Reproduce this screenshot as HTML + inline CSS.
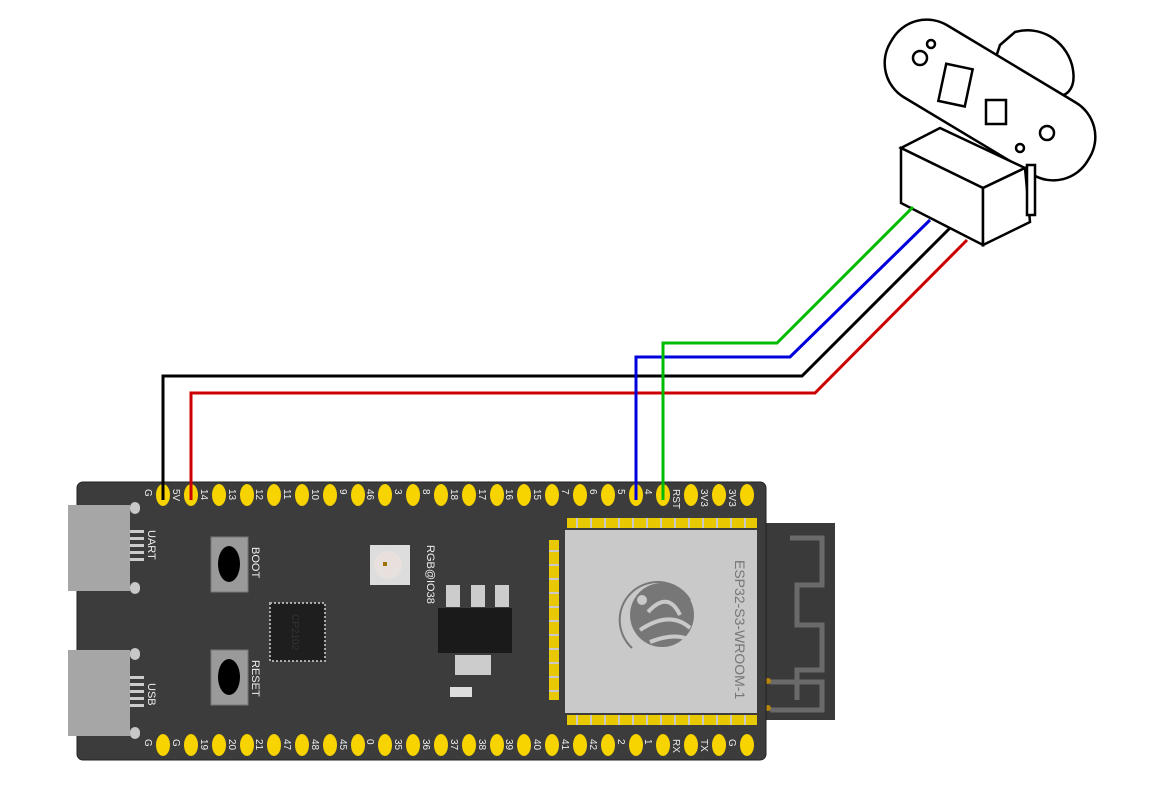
<!DOCTYPE html>
<html><head><style>
html,body{margin:0;padding:0;background:#fff;}
svg{display:block;}
text{font-family:"Liberation Sans",sans-serif;}
</style></head><body>
<svg width="1165" height="810" viewBox="0 0 1165 810" xmlns="http://www.w3.org/2000/svg">
<!-- sensor -->
<g fill="#fff" stroke="#000" stroke-width="2.5">
  <path d="M1000,45 L1015,32 C1040,25 1065,40 1072,65 C1078,90 1065,100 1050,95 L990,75 Z"/>
  <rect x="875" y="58" width="230" height="84" rx="40" transform="rotate(31 990 100)"/>
  <rect x="942" y="66" width="27" height="38" transform="rotate(12 955 85)"/>
  <rect x="986" y="100" width="20" height="24"/>
  <circle cx="920" cy="58" r="7"/><circle cx="1047" cy="133" r="7"/>
  <circle cx="931" cy="44" r="4"/><circle cx="1020" cy="148" r="4"/>
  <polygon points="901,148 940,128 1025,168 983,188"/>
  <polygon points="901,148 983,188 983,245 901,203"/>
  <polygon points="983,188 1025,168 1030,222 983,245"/>
  <rect x="1027" y="165" width="8" height="50"/>
</g>
<!-- board -->
<rect x="766" y="523" width="69" height="197" fill="#3a3a3a"/>
<path d="M790,538 H822 V585 H797 V625 H822 V670 H797 V700" fill="none" stroke="#6a6a6a" stroke-width="5"/>
<path d="M770,682 H822 V710 H770" fill="none" stroke="#6a6a6a" stroke-width="5"/>
<circle cx="768" cy="681" r="3" fill="#b8860b"/><circle cx="768" cy="708" r="3" fill="#b8860b"/>
<rect x="77" y="482" width="689" height="278" rx="6" fill="#3c3c3c" stroke="#222" stroke-width="1"/>
<!-- USB connectors -->
<g fill="#a6a6a6">
<rect x="68" y="505" width="62" height="86"/><rect x="68" y="650" width="62" height="86"/>
<rect x="130" y="502" width="10" height="12" rx="5" fill="#c8c8c8"/><rect x="130" y="582" width="10" height="12" rx="5" fill="#c8c8c8"/>
<rect x="130" y="648" width="10" height="12" rx="5" fill="#c8c8c8"/><rect x="130" y="727" width="10" height="12" rx="5" fill="#c8c8c8"/>
</g>
<g fill="#ccc">
<rect x="130" y="530" width="14" height="3"/><rect x="130" y="537" width="14" height="3"/><rect x="130" y="544" width="14" height="3"/><rect x="130" y="551" width="14" height="3"/><rect x="130" y="558" width="14" height="3"/>
<rect x="130" y="676" width="14" height="3"/><rect x="130" y="683" width="14" height="3"/><rect x="130" y="690" width="14" height="3"/><rect x="130" y="697" width="14" height="3"/><rect x="130" y="704" width="14" height="3"/>
</g>
<g fill="#eee" font-size="11">
<text transform="translate(148,530) rotate(90)">UART</text>
<text transform="translate(148,683) rotate(90)">USB</text>
<text transform="translate(252,547) rotate(90)">BOOT</text>
<text transform="translate(252,660) rotate(90)">RESET</text>
<text transform="translate(427,545) rotate(90)">RGB@IO38</text>
</g>
<!-- buttons -->
<rect x="211" y="537" width="37" height="55" fill="#9a9a9a" stroke="#777"/>
<ellipse cx="229" cy="564" rx="11" ry="18" fill="#000"/>
<rect x="211" y="650" width="37" height="55" fill="#9a9a9a" stroke="#777"/>
<ellipse cx="229" cy="677" rx="11" ry="18" fill="#000"/>
<!-- CP2102 -->
<rect x="270" y="603" width="55" height="58" fill="#1e1e1e" stroke="#aaa" stroke-width="2" stroke-dasharray="2 2"/>
<text transform="translate(292,614) rotate(90)" fill="#333" font-size="10">CP2102</text>
<!-- RGB LED -->
<rect x="370" y="545" width="40" height="40" fill="#ddd"/>
<circle cx="388" cy="565" r="14" fill="#e8e0dc"/><rect x="383" y="562" width="4" height="4" fill="#a07000"/>
<!-- regulator -->
<rect x="446" y="585" width="14" height="22" fill="#ccc"/><rect x="471" y="585" width="14" height="22" fill="#ccc"/><rect x="495" y="585" width="14" height="22" fill="#ccc"/>
<rect x="438" y="608" width="74" height="45" fill="#1a1a1a"/>
<rect x="455" y="655" width="36" height="20" fill="#ccc"/>
<rect x="450" y="687" width="22" height="10" fill="#ddd"/>
<!-- module -->
<rect x="565" y="530" width="192" height="183" fill="#c9c9c9"/>
<g fill="#e8c800">
<rect x="567" y="518" width="190" height="10"/><rect x="567" y="715" width="190" height="10"/><rect x="549" y="540" width="10" height="160"/>
</g>
<g stroke="#c9c9c9" stroke-width="2">
<path d="M577,518V528M591,518V528M605,518V528M619,518V528M633,518V528M647,518V528M661,518V528M675,518V528M689,518V528M703,518V528M717,518V528M731,518V528M745,518V528"/>
<path d="M577,715V725M591,715V725M605,715V725M619,715V725M633,715V725M647,715V725M661,715V725M675,715V725M689,715V725M703,715V725M717,715V725M731,715V725M745,715V725"/>
<path d="M549,551H559M549,565H559M549,579H559M549,593H559M549,607H559M549,621H559M549,635H559M549,649H559M549,663H559M549,677H559M549,691H559"/>
</g>
<g fill="#777">
<path d="M632,648 A38,38 0 1 1 690,600" fill="none" stroke="#777" stroke-width="2"/>
<circle cx="662" cy="615" r="32"/>
</g>
<circle cx="642" cy="600" r="5" fill="#c9c9c9"/>
<path d="M648,612 Q668,590 680,615 M640,630 Q670,610 690,628 M650,642 Q675,632 690,640" fill="none" stroke="#c9c9c9" stroke-width="4"/>
<text transform="translate(735,560) rotate(90)" fill="#777" font-size="14">ESP32-S3-WROOM-1</text>
<g fill="#f7d300">
<ellipse cx="163" cy="495" rx="7" ry="11"/><ellipse cx="191" cy="495" rx="7" ry="11"/><ellipse cx="219" cy="495" rx="7" ry="11"/><ellipse cx="247" cy="495" rx="7" ry="11"/><ellipse cx="274" cy="495" rx="7" ry="11"/><ellipse cx="302" cy="495" rx="7" ry="11"/><ellipse cx="330" cy="495" rx="7" ry="11"/><ellipse cx="358" cy="495" rx="7" ry="11"/><ellipse cx="385" cy="495" rx="7" ry="11"/><ellipse cx="413" cy="495" rx="7" ry="11"/><ellipse cx="441" cy="495" rx="7" ry="11"/><ellipse cx="469" cy="495" rx="7" ry="11"/><ellipse cx="497" cy="495" rx="7" ry="11"/><ellipse cx="524" cy="495" rx="7" ry="11"/><ellipse cx="552" cy="495" rx="7" ry="11"/><ellipse cx="580" cy="495" rx="7" ry="11"/><ellipse cx="608" cy="495" rx="7" ry="11"/><ellipse cx="636" cy="495" rx="7" ry="11"/><ellipse cx="663" cy="495" rx="7" ry="11"/><ellipse cx="691" cy="495" rx="7" ry="11"/><ellipse cx="719" cy="495" rx="7" ry="11"/><ellipse cx="747" cy="495" rx="7" ry="11"/>
<ellipse cx="163" cy="745" rx="7" ry="11"/><ellipse cx="191" cy="745" rx="7" ry="11"/><ellipse cx="219" cy="745" rx="7" ry="11"/><ellipse cx="247" cy="745" rx="7" ry="11"/><ellipse cx="274" cy="745" rx="7" ry="11"/><ellipse cx="302" cy="745" rx="7" ry="11"/><ellipse cx="330" cy="745" rx="7" ry="11"/><ellipse cx="358" cy="745" rx="7" ry="11"/><ellipse cx="385" cy="745" rx="7" ry="11"/><ellipse cx="413" cy="745" rx="7" ry="11"/><ellipse cx="441" cy="745" rx="7" ry="11"/><ellipse cx="469" cy="745" rx="7" ry="11"/><ellipse cx="497" cy="745" rx="7" ry="11"/><ellipse cx="524" cy="745" rx="7" ry="11"/><ellipse cx="552" cy="745" rx="7" ry="11"/><ellipse cx="580" cy="745" rx="7" ry="11"/><ellipse cx="608" cy="745" rx="7" ry="11"/><ellipse cx="636" cy="745" rx="7" ry="11"/><ellipse cx="663" cy="745" rx="7" ry="11"/><ellipse cx="691" cy="745" rx="7" ry="11"/><ellipse cx="719" cy="745" rx="7" ry="11"/><ellipse cx="747" cy="745" rx="7" ry="11"/>
</g>
<g fill="#eee" font-size="10">
<text transform="translate(145,489) rotate(90)">G</text><text transform="translate(173,489) rotate(90)">5V</text><text transform="translate(201,489) rotate(90)">14</text><text transform="translate(229,489) rotate(90)">13</text><text transform="translate(256,489) rotate(90)">12</text><text transform="translate(284,489) rotate(90)">11</text><text transform="translate(312,489) rotate(90)">10</text><text transform="translate(340,489) rotate(90)">9</text><text transform="translate(367,489) rotate(90)">46</text><text transform="translate(395,489) rotate(90)">3</text><text transform="translate(423,489) rotate(90)">8</text><text transform="translate(451,489) rotate(90)">18</text><text transform="translate(479,489) rotate(90)">17</text><text transform="translate(506,489) rotate(90)">16</text><text transform="translate(534,489) rotate(90)">15</text><text transform="translate(562,489) rotate(90)">7</text><text transform="translate(590,489) rotate(90)">6</text><text transform="translate(618,489) rotate(90)">5</text><text transform="translate(645,489) rotate(90)">4</text><text transform="translate(673,489) rotate(90)">RST</text><text transform="translate(701,489) rotate(90)">3V3</text><text transform="translate(729,489) rotate(90)">3V3</text>
<text transform="translate(145,739) rotate(90)">G</text><text transform="translate(173,739) rotate(90)">G</text><text transform="translate(201,739) rotate(90)">19</text><text transform="translate(229,739) rotate(90)">20</text><text transform="translate(256,739) rotate(90)">21</text><text transform="translate(284,739) rotate(90)">47</text><text transform="translate(312,739) rotate(90)">48</text><text transform="translate(340,739) rotate(90)">45</text><text transform="translate(367,739) rotate(90)">0</text><text transform="translate(395,739) rotate(90)">35</text><text transform="translate(423,739) rotate(90)">36</text><text transform="translate(451,739) rotate(90)">37</text><text transform="translate(479,739) rotate(90)">38</text><text transform="translate(506,739) rotate(90)">39</text><text transform="translate(534,739) rotate(90)">40</text><text transform="translate(562,739) rotate(90)">41</text><text transform="translate(590,739) rotate(90)">42</text><text transform="translate(618,739) rotate(90)">2</text><text transform="translate(645,739) rotate(90)">1</text><text transform="translate(673,739) rotate(90)">RX</text><text transform="translate(701,739) rotate(90)">TX</text><text transform="translate(729,739) rotate(90)">G</text>
</g>
<!-- wires -->
<g fill="none" stroke-width="3" stroke-linejoin="miter">
<polyline points="163,500 163,376 802,376 950,228" stroke="#000"/>
<polyline points="191,500 191,393 815,393 967,240" stroke="#cc0000"/>
<polyline points="636,500 636,357 790,357 930,220" stroke="#0000dd"/>
<polyline points="663,500 663,343 777,343 913,207" stroke="#00bb00"/>
</g>
</svg>
</body></html>
